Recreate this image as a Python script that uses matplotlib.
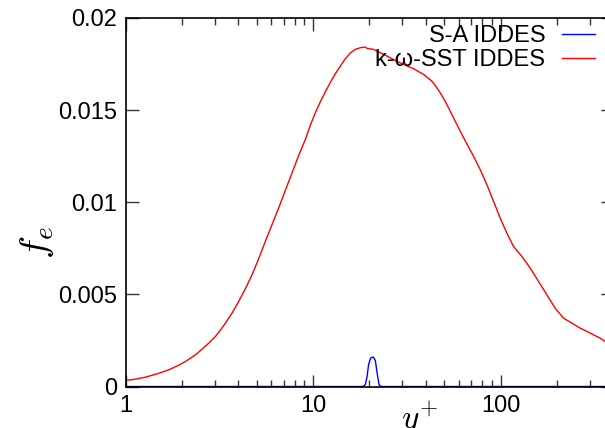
import matplotlib
matplotlib.use("Agg")
import matplotlib.pyplot as plt
from matplotlib.ticker import LogLocator, FixedLocator, NullFormatter

plt.rcParams["font.family"] = "Liberation Sans"
plt.rcParams["mathtext.fontset"] = "cm"
plt.rcParams["font.size"] = 17

# f_e profiles along y+
yplus_sst = [1.000, 1.131, 1.278, 1.475, 1.702, 1.924, 2.131, 2.360, 2.562,
             2.780, 3.017, 3.208, 3.412, 3.702, 4.017, 4.359, 4.731, 5.134,
             5.571, 6.046, 6.562, 7.121, 7.728, 8.387, 9.102, 9.678, 10.29,
             10.94, 11.63, 12.37, 13.15, 13.99, 14.87, 15.81, 16.81, 17.87,
             19.00, 19.39, 21.04, 22.84, 24.79, 27.45, 30.41, 34.38, 38.87,
             43.05, 45.76, 48.67, 51.74, 56.15, 60.95, 66.14, 71.77, 77.89,
             84.53, 91.73, 99.54, 108.0, 117.2, 129.9, 143.9, 159.4, 176.5,
             195.5, 216.6, 239.9, 265.7, 294.3, 312.9, 339.6, 361.0, 400.0]
fe_sst = [0.000326, 0.000399, 0.000507, 0.000688, 0.000906, 0.001159,
          0.001413, 0.001721, 0.002029, 0.002355, 0.002717, 0.003062,
          0.003442, 0.003986, 0.004620, 0.005308, 0.006069, 0.006938,
          0.007880, 0.008786, 0.009692, 0.010652, 0.011594, 0.012536,
          0.013406, 0.014185, 0.014855, 0.015453, 0.015996, 0.016504,
          0.016975, 0.017391, 0.017790, 0.018098, 0.018297, 0.018388,
          0.018424, 0.018352, 0.018297, 0.018116, 0.017935, 0.017699,
          0.017482, 0.017246, 0.016938, 0.016576, 0.016214, 0.015797,
          0.015308, 0.014583, 0.013859, 0.013170, 0.012500, 0.011775,
          0.010960, 0.010054, 0.009149, 0.008333, 0.007609, 0.007065,
          0.006431, 0.005707, 0.004982, 0.004257, 0.003714, 0.003442,
          0.003170, 0.002953, 0.002808, 0.002627, 0.002446, 0.002100]

yplus_sa = [1.0, 18.5, 19.0, 19.4, 19.8, 20.3, 21.0, 21.5, 22.0, 22.5, 23.0, 400]
fe_sa = [0.0, 0.0, 0.0001, 0.0005, 0.0012, 0.00155, 0.0016, 0.0014, 0.0007,
         0.0001, 0.0, 0.0]

W, H = 605, 428
fig = plt.figure(figsize=(W / 100, H / 100), dpi=100)
left, right, top, bottom = 125.5, 613.4, 18, 386.5
ax = fig.add_axes([left / W, (H - bottom) / H, (right - left) / W, (bottom - top) / H])

ax.plot(yplus_sa, fe_sa, color="#0000ff", lw=1.0, label="S-A IDDES")
ax.plot(yplus_sst, fe_sst, color="#ff0000", lw=1.0, label="k-ω-SST IDDES")

ax.set_xscale("log")
ax.set_xlim(1, 400)
ax.set_ylim(0, 0.02)
ax.xaxis.set_major_locator(FixedLocator([1, 10, 100]))
ax.set_xticklabels(["1", "10", "100"])
ax.xaxis.set_minor_locator(LogLocator(base=10, subs=range(2, 10)))
ax.xaxis.set_minor_formatter(NullFormatter())
ax.set_yticks([0, 0.005, 0.01, 0.015, 0.02])
ax.set_yticklabels(["0", "0.005", "0.01", "0.015", "0.02"])

ax.tick_params(which="both", direction="in", top=True, right=True, width=1.0, color="#333333")
ax.tick_params(which="major", length=9, pad=6)
ax.tick_params(which="minor", length=5)
for sp in ax.spines.values():
    sp.set_linewidth(1.2)

ax.set_xlabel(r"$y^{+}$", fontsize=24)
ax.xaxis.set_label_coords((420 - left) / (right - left), -0.035, transform=ax.transAxes)
ax.xaxis.label.set_va("top")
ax.set_ylabel(r"$f_e$", fontsize=28)
ax.yaxis.set_label_coords(-(left - 37) / (right - left), (bottom - 243) / (bottom - top))
ax.yaxis.label.set_va("center")

leg = ax.legend(loc="upper right", bbox_to_anchor=((602 - left) / (right - left), 1.0),
                markerfirst=False, frameon=False, borderpad=0, borderaxespad=0.3,
                handlelength=1.4, handletextpad=0.7, labelspacing=0.08, fontsize=17)

fig.savefig("out.png", dpi=100)
